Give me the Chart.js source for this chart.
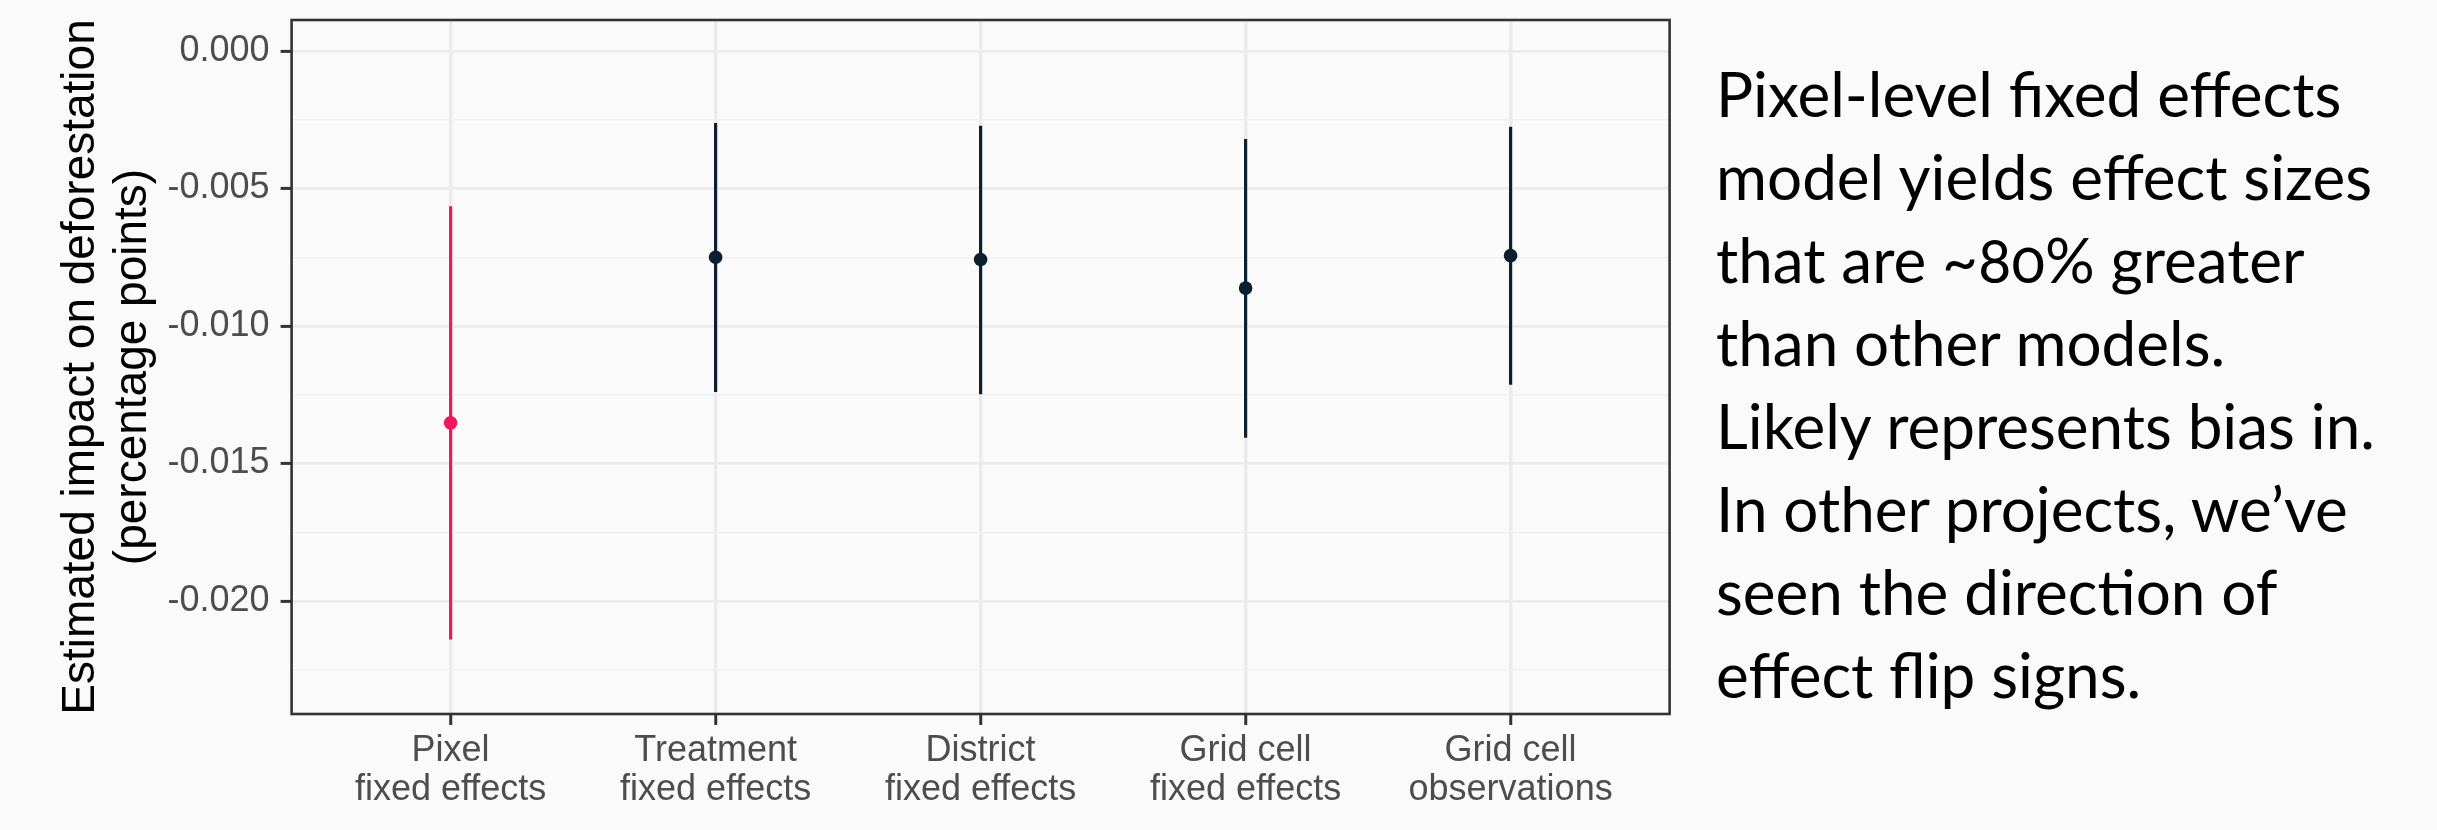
<!DOCTYPE html>
<html>
<head>
<meta charset="utf-8">
<title>Estimated impact on deforestation</title>
<script src="https://cdn.jsdelivr.net/npm/chart.js@4.4.1/dist/chart.umd.min.js"></script>
<style>
  body { margin: 0; background: #fafafa; }
  #wrap { position: relative; width: 2437px; height: 830px; }
  #chart { display: block; }
  #note {
    position: absolute;
    left: 1716px;
    top: 52px;
    font-family: Lato, "Open Sans", sans-serif;
    font-size: 62px;
    line-height: 83px;
    color: #000;
    white-space: nowrap;
    font-variant-numeric: oldstyle-nums;
  }
</style>
</head>
<body>
<div id="wrap">
  <canvas id="chart" width="2437" height="830"></canvas>
  <div id="note">
    Pixel-level fixed effects<br>
    model yields effect sizes<br>
    that are ~80% greater<br>
    than other models.<br>
    Likely represents bias in.<br>
    In other projects, we’ve<br>
    seen the direction of<br>
    effect flip signs.
  </div>
</div>
<script>
// model labels (two lines each)
const categories = [
  ["Pixel", "fixed effects"],
  ["Treatment", "fixed effects"],
  ["District", "fixed effects"],
  ["Grid cell", "fixed effects"],
  ["Grid cell", "observations"]
];

// point estimates and confidence interval ends
const estimates = [-0.01352, -0.00750, -0.00758, -0.00862, -0.00744];
const ciLow = [-0.02139, -0.01239, -0.01247, -0.01405, -0.01212];
const ciHigh = [-0.00566, -0.00263, -0.00273, -0.00321, -0.00276];

// y axis
const yMajorTicks = [0, -0.005, -0.010, -0.015, -0.020];
const yMinorTicks = [-0.0025, -0.0075, -0.0125, -0.0175, -0.0225];
const yMin = -0.02411;
const yMax = 0.00113;

const PINK = "#f0185a";
const NAVY = "#0b1f30";
const FONT = "'Liberation Sans', Arial, sans-serif";

const isMajor = v => yMajorTicks.includes(v);
const pickColor = ctx => (ctx.dataIndex === 0 ? PINK : NAVY);

// ggplot-style box around the panel
const panelBorder = {
  id: "panelBorder",
  afterDraw(chart) {
    const { ctx, chartArea: a } = chart;
    ctx.save();
    ctx.strokeStyle = "#333333";
    ctx.lineWidth = 2.6;
    ctx.strokeRect(a.left, a.top, a.right - a.left, a.bottom - a.top);
    ctx.restore();
  }
};

new Chart(document.getElementById("chart"), {
  type: "bar",
  data: {
    datasets: [
      {
        type: "bar",
        data: ciLow.map((lo, i) => ({ x: i, y: [lo, ciHigh[i]] })),
        backgroundColor: pickColor,
        borderWidth: 0,
        barThickness: 2.5,
        grouped: false,
        order: 2
      },
      {
        type: "scatter",
        data: estimates.map((y, i) => ({ x: i, y })),
        pointRadius: 6.8,
        pointBackgroundColor: pickColor,
        pointBorderWidth: 0,
        order: 1
      }
    ]
  },
  options: {
    responsive: false,
    animation: false,
    layout: { padding: { top: 20, right: 767.4, bottom: 0, left: 0 } },
    plugins: {
      legend: { display: false },
      tooltip: { enabled: false }
    },
    scales: {
      x: {
        type: "linear",
        min: -0.6,
        max: 4.6,
        offset: false,
        afterBuildTicks: s => { s.ticks = categories.map((c, i) => ({ value: i })); },
        afterFit: s => { s.height = 116; s.paddingLeft = 0; s.paddingRight = 0; },
        border: { display: false },
        grid: {
          offset: false,
          color: "#ebebeb",
          lineWidth: 3.5,
          tickColor: "#333333",
          tickWidth: 3,
          tickLength: 11
        },
        ticks: {
          callback: v => categories[v],
          color: "#4d4d4d",
          font: { family: FONT, size: 36, lineHeight: 1.1 },
          padding: 6,
          maxRotation: 0,
          autoSkip: false
        }
      },
      y: {
        min: yMin,
        max: yMax,
        afterBuildTicks: s => {
          s.ticks = [...yMajorTicks, ...yMinorTicks].sort((a, b) => a - b).map(v => ({ value: v }));
        },
        afterFit: s => { s.width = 291.6; s.paddingTop = 0; s.paddingBottom = 0; },
        border: { display: false },
        grid: {
          color: c => (isMajor(c.tick.value) ? "#ebebeb" : "#efefef"),
          lineWidth: c => (isMajor(c.tick.value) ? 2.8 : 1.4),
          tickColor: c => (isMajor(c.tick.value) ? "#333333" : "rgba(0,0,0,0)"),
          tickWidth: 3,
          tickLength: 11
        },
        ticks: {
          callback: v => (isMajor(v) ? v.toFixed(3) : ""),
          color: "#4d4d4d",
          font: { family: FONT, size: 36 },
          padding: 11,
          autoSkip: false
        },
        title: {
          display: true,
          text: ["Estimated impact on deforestation", "(percentage points)"],
          color: "#000000",
          font: { family: FONT, size: 46, lineHeight: 1.13 },
          padding: { top: 55, bottom: 0 }
        }
      }
    }
  },
  plugins: [panelBorder]
});
</script>
</body>
</html>
